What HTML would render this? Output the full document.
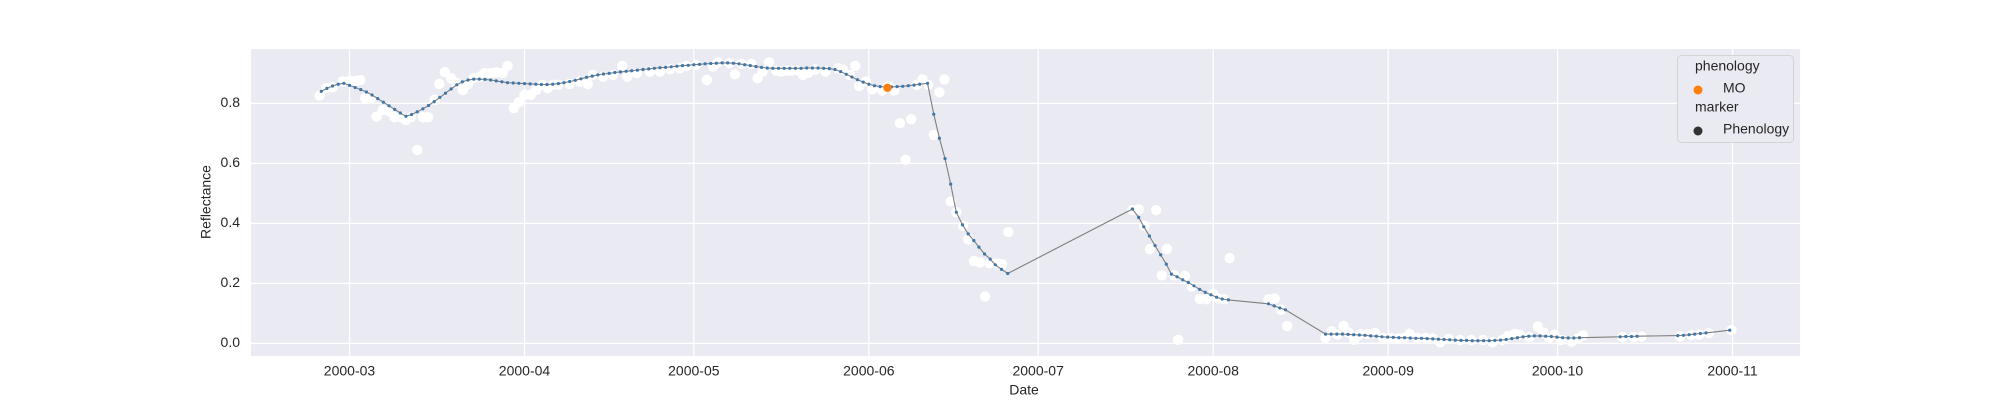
<!DOCTYPE html>
<html><head><meta charset="utf-8"><style>
html,body{margin:0;padding:0;background:#fff;}
svg{display:block;font-family:"Liberation Sans",Arial,sans-serif;}
</style></head><body>
<svg id="chart" width="2000" height="400" viewBox="0 0 2000 400">
<rect x="251" y="49" width="1549" height="307" fill="#eaeaf2"/>
<g id="grid"></g>
<g id="ticks"></g>
<g id="raw"></g>
<g id="smooth"></g>
<g id="mo"></g>
<text x="207" y="202" transform="rotate(-90 207 202)" text-anchor="middle" dominant-baseline="middle" font-size="14" fill="#262626">Reflectance</text>
<text x="1024" y="391" text-anchor="middle" dominant-baseline="middle" font-size="14" fill="#262626">Date</text>
<g>
<rect x="1677.5" y="55.5" width="116" height="87" rx="4" fill="#eaeaf2" stroke="#d4d4d8"/>
<text x="1695" y="67" dominant-baseline="middle" font-size="14" fill="#262626">phenology</text>
<circle cx="1698" cy="90" r="4.5" fill="#ff7f0e"/>
<text x="1723" y="89" dominant-baseline="middle" font-size="14" fill="#262626">MO</text>
<text x="1695" y="108" dominant-baseline="middle" font-size="14" fill="#262626">marker</text>
<circle cx="1698" cy="131" r="4.5" fill="#333333"/>
<text x="1723" y="130" dominant-baseline="middle" font-size="14" fill="#262626">Phenology</text>
</g>
</svg>
<script>
// days counted from 2000-03-01
const xTickDays = [0,31,61,92,122,153,184,214,245];
const xTickLabels = ["2000-03","2000-04","2000-05","2000-06","2000-07","2000-08","2000-09","2000-10","2000-11"];
const yTickValues = [0,0.2,0.4,0.6,0.8];
const yTickLabels = ["0.0","0.2","0.4","0.6","0.8"];

const rawDays = [-5.3,-4.1,-3,-1.2,0,1,1.9,2.8,3.8,4.8,5.9,7.1,8,9.2,10,10.9,12,13,13.9,15.1,15.9,16.9,18,18.9,20.1,21,22,23,23.9,25,26,27.1,28,29.1,30,31,32.1,33.1,34.1,35.1,36,37,39,40.8,42.2,43.1,44.9,46.7,48.3,49.2,50.9,53.2,55,56.8,58.5,59.7,61.4,63.3,64.4,65.3,67.3,68.3,69.4,71.2,72.3,73.2,74.3,75.6,76.5,77.4,78.3,79.5,80.3,81.3,82.5,84.3,86.5,87.4,88.6,89.6,90.3,91.5,92.6,94.4,95.5,96.5,97.5,98.5,99.5,100.5,101.5,102.5,103.5,104.5,105.4,106.5,107.5,108.7,109.6,110.6,111.7,112.6,113.4,114.7,115.6,116.7,138.7,139.8,140.8,141.8,142.9,143.9,144.8,146.1,146.8,148,149.2,150.6,151.8,153,153.8,155,155.9,162.8,163.9,165,166.1,172.9,174,175,176.1,177,178,179,180.4,181.7,183.1,184.4,185.8,186.8,187.8,189.2,190.6,191.9,193.2,194.7,196.7,198.7,200.8,202.5,204.2,205.2,206.4,207.3,209,210.5,211.5,212.5,213.5,214.6,216.5,217.6,218.5,225.5,227.5,228.9,235.7,237.7,239.1,240.8,244.8];
const rawValues = [0.826,0.851,0.854,0.873,0.875,0.875,0.878,0.817,0.817,0.756,0.778,0.773,0.754,0.754,0.745,0.754,0.645,0.754,0.754,0.812,0.865,0.904,0.884,0.869,0.845,0.865,0.884,0.889,0.901,0.901,0.904,0.901,0.925,0.784,0.804,0.828,0.828,0.845,0.862,0.851,0.862,0.862,0.865,0.873,0.865,0.895,0.889,0.895,0.925,0.889,0.901,0.906,0.906,0.914,0.917,0.925,0.928,0.878,0.923,0.937,0.934,0.897,0.932,0.932,0.884,0.906,0.937,0.909,0.906,0.909,0.909,0.909,0.895,0.902,0.913,0.906,0.917,0.912,0.895,0.925,0.858,0.873,0.847,0.843,0.858,0.843,0.734,0.612,0.747,0.862,0.880,0.862,0.694,0.837,0.880,0.473,0.437,0.392,0.347,0.275,0.270,0.156,0.267,0.267,0.264,0.371,0.445,0.447,0.392,0.315,0.444,0.227,0.315,0.227,0.012,0.225,0.189,0.148,0.147,0.165,0.150,0.147,0.284,0.147,0.150,0.112,0.058,0.018,0.040,0.029,0.058,0.036,0.012,0.031,0.031,0.035,0.018,0.018,0.016,0.018,0.032,0.018,0.018,0.016,0.004,0.015,0.011,0.011,0.011,0.004,0.011,0.024,0.032,0.029,0.021,0.056,0.036,0.018,0.029,0.011,0.006,0.016,0.027,0.021,0.021,0.023,0.023,0.027,0.029,0.034,0.044];

const smoothDays = [-5,-4,-3,-2,-1,0,1,2,3,4,5,6,7,8,9,10,11,12,13,14,15,16,17,18,19,20,21,22,23,24,25,26,27,28,29,30,31,32,33,34,35,36,37,38,39,40,41,42,43,44,45,46,47,48,49,50,51,52,53,54,55,56,57,58,59,60,61,62,63,64,65,66,67,68,69,70,71,72,73,74,75,76,77,78,79,80,81,82,83,84,85,86,87,88,89,90,91,92,93,94,95,96,97,98,99,100,101,102.4,103.5,104.5,105.5,106.5,107.5,108.6,109.6,110.6,111.5,112.5,113.5,114.4,115.5,116.6,138.7,139.8,140.7,141.7,142.7,143.7,144.7,145.6,146.6,147.6,148.6,149.6,150.6,151.6,152.6,153.6,154.6,155.7,162.8,163.8,164.8,165.8,172.9,173.9,174.9,175.9,176.9,177.9,178.9,179.9,180.9,181.9,182.9,183.9,184.9,185.9,186.9,187.9,188.9,189.9,190.9,191.9,192.9,193.9,194.9,195.9,196.9,197.9,198.9,199.9,200.9,201.9,202.9,203.9,204.9,205.9,206.9,207.9,208.9,209.9,210.9,211.9,212.9,213.9,214.9,215.9,216.9,217.9,225.1,226.1,227.1,228.1,235.3,236.3,237.3,238.3,239.3,240.3,244.5];
const smoothValues = [0.840,0.850,0.858,0.864,0.867,0.860,0.853,0.846,0.838,0.828,0.816,0.804,0.792,0.780,0.768,0.757,0.763,0.772,0.782,0.793,0.806,0.820,0.834,0.848,0.862,0.872,0.878,0.881,0.881,0.880,0.878,0.875,0.872,0.869,0.868,0.867,0.866,0.865,0.864,0.863,0.863,0.864,0.866,0.869,0.873,0.877,0.882,0.887,0.891,0.895,0.898,0.900,0.903,0.905,0.907,0.909,0.911,0.913,0.915,0.917,0.919,0.920,0.922,0.924,0.926,0.927,0.929,0.930,0.932,0.933,0.934,0.935,0.935,0.934,0.932,0.929,0.926,0.923,0.920,0.918,0.917,0.917,0.917,0.917,0.917,0.917,0.918,0.918,0.918,0.917,0.916,0.913,0.906,0.897,0.888,0.879,0.871,0.864,0.859,0.856,0.855,0.855,0.856,0.857,0.859,0.861,0.864,0.867,0.764,0.684,0.616,0.531,0.437,0.395,0.365,0.343,0.321,0.298,0.281,0.262,0.247,0.233,0.448,0.420,0.389,0.358,0.326,0.295,0.264,0.231,0.222,0.212,0.203,0.192,0.180,0.170,0.162,0.154,0.148,0.145,0.132,0.125,0.118,0.112,0.031,0.031,0.031,0.031,0.030,0.029,0.028,0.027,0.025,0.024,0.022,0.021,0.020,0.019,0.019,0.018,0.017,0.017,0.016,0.015,0.014,0.013,0.012,0.011,0.010,0.010,0.009,0.009,0.009,0.009,0.010,0.011,0.013,0.016,0.019,0.022,0.024,0.025,0.025,0.024,0.023,0.021,0.019,0.018,0.018,0.019,0.022,0.023,0.023,0.024,0.026,0.027,0.029,0.031,0.033,0.035,0.044];

const moDays = [95.3];
const moValues = [0.852];

const NS = "http://www.w3.org/2000/svg";
function xScale(d){ return 349.5 + 5.645*d; }
function yScale(v){ return 343.4 - 300*v; }
function mk(tag, attrs, parent){ const e=document.createElementNS(NS,tag); for(const k in attrs) e.setAttribute(k,attrs[k]); parent.appendChild(e); return e; }

const grid=document.getElementById('grid'), ticks=document.getElementById('ticks');
xTickDays.forEach((d,i)=>{
  const x=xScale(d);
  const l=mk('line',{x1:x,x2:x,y1:49,y2:356,stroke:'#fff','stroke-width':1.3},grid);
  
  
  const t=mk('text',{x:x,y:372,'text-anchor':'middle','dominant-baseline':'middle','font-size':14,fill:'#262626'},ticks);
  t.textContent=xTickLabels[i];
  
  
});
yTickValues.forEach((v,i)=>{
  const y=yScale(v);
  const l=mk('line',{x1:251,x2:1800,y1:y,y2:y,stroke:'#fff','stroke-width':1.3},grid);
  
  
  const t=mk('text',{x:240,y:y,'text-anchor':'end','dominant-baseline':'middle','font-size':14,fill:'#262626'},ticks);
  t.textContent=yTickLabels[i];
  
  
});

const raw=document.getElementById('raw');
rawDays.forEach((d,i)=>{
  const c=mk('circle',{cx:xScale(d),cy:yScale(rawValues[i]),r:5.2,fill:'#ffffff'},raw);
  
  
});

const sm=document.getElementById('smooth');
const pts=smoothDays.map((d,i)=>xScale(d).toFixed(1)+','+yScale(smoothValues[i]).toFixed(1)).join(' ');
const pl=mk('polyline',{points:pts,fill:'none',stroke:'#7f7f7f','stroke-width':1.1},sm);


smoothDays.forEach((d,i)=>{
  const c=mk('circle',{cx:xScale(d),cy:yScale(smoothValues[i]),r:1.6,fill:'#3f77a8'},sm);
  
  
});

const mo=document.getElementById('mo');
moDays.forEach((d,i)=>{
  const c=mk('circle',{cx:xScale(d),cy:yScale(moValues[i]),r:4.2,fill:'#ff7f0e'},mo);
  
  
});
</script>
</body></html>
